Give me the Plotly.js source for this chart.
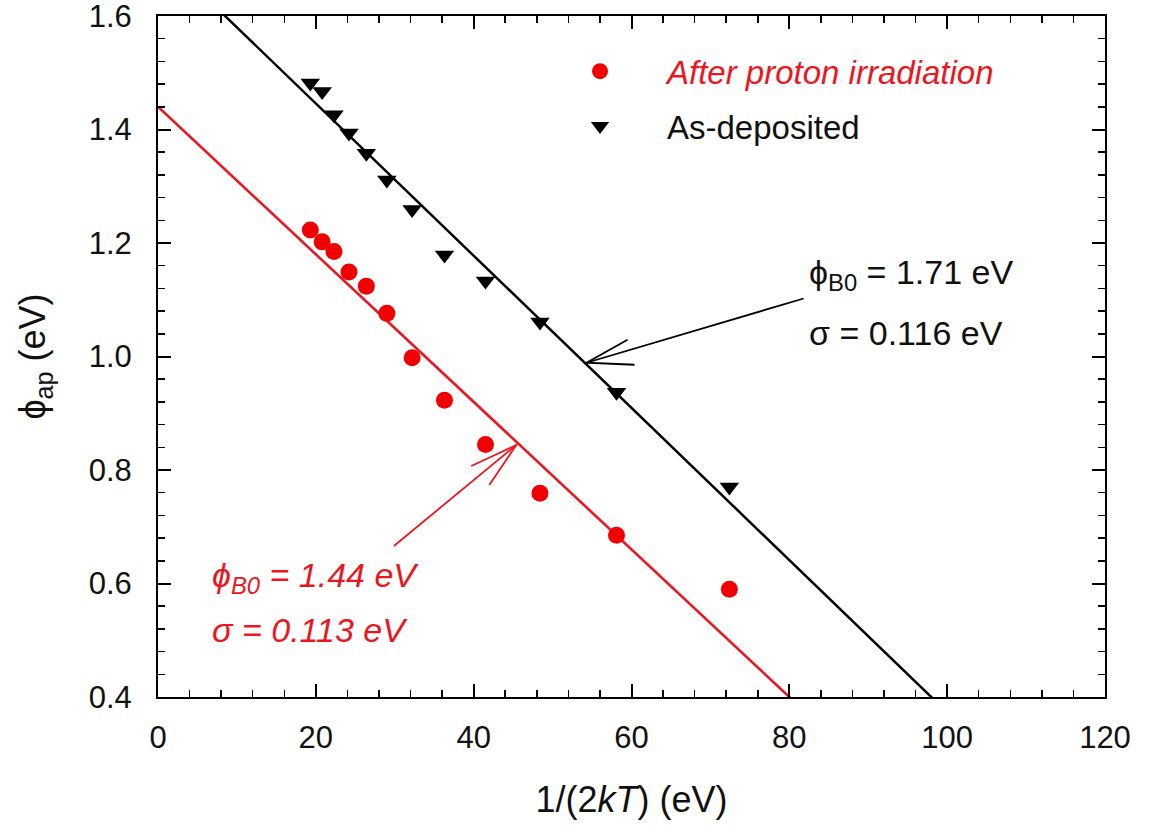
<!DOCTYPE html>
<html>
<head>
<meta charset="utf-8">
<script src="https://cdn.plot.ly/plotly-3.0.1.min.js"></script>
<style>html,body{margin:0;padding:0;background:#fff;}#chart{width:1149px;height:834px;}</style>
</head>
<body>
<div id="chart"></div>
<script>
// 1/(2kT) values (eV^-1)
var invTwoKT = [19.3, 20.8, 22.3, 24.2, 26.4, 29.0, 32.2, 36.3, 41.5, 48.4, 58.1, 72.4];
// apparent barrier heights (eV)
var phiAsDeposited = [1.482, 1.467, 1.426, 1.394, 1.358, 1.311, 1.259, 1.179, 1.133, 1.061, 0.937, 0.770];
var phiIrradiated  = [1.223, 1.202, 1.185, 1.149, 1.124, 1.076, 0.998, 0.923, 0.845, 0.759, 0.685, 0.590];
// linear fits phi_ap = phiB0 - sigma^2/(2kT)
var fitIntercept = [1.714, 1.440];   // as-deposited, irradiated
var fitSlope = [-0.01341, -0.0130];
var fitX = [0, 120];
var seriesNames = ['After proton irradiation', 'As-deposited'];

var RED = 'rgb(236,22,32)';
var BLACK = '#000';
var FONT = 'Liberation Sans, Arial, sans-serif';

function fitLine(i) { return fitX.map(function (x) { return fitIntercept[i] + fitSlope[i] * x; }); }

var traces = [
  {x: fitX, y: fitLine(0), mode: 'lines', line: {color: BLACK, width: 2.5}, showlegend: false, hoverinfo: 'skip'},
  {x: fitX, y: fitLine(1), mode: 'lines', line: {color: RED, width: 2.6}, showlegend: false, hoverinfo: 'skip'},
  {x: invTwoKT, y: phiIrradiated, mode: 'markers', name: '<i><span style="color:' + RED + '">' + seriesNames[0] + '</span></i>',
   legendgroup: 'a', marker: {symbol: 'circle', size: 17, color: 'rgb(240,0,0)'}},
  {x: invTwoKT, y: phiAsDeposited, mode: 'markers', name: seriesNames[1],
   legendgroup: 'b', marker: {symbol: 'triangle-down', size: 17, color: BLACK}}
];

var axisCommon = {
  showline: true, linecolor: BLACK, linewidth: 2, mirror: 'allticks',
  ticks: 'inside', ticklen: 13, tickwidth: 2, tickcolor: BLACK,
  showgrid: false, zeroline: false, ticklabeloverflow: 'allow',
  tickfont: {family: FONT, size: 31, color: '#111'}
};

var layout = {
  width: 1149, height: 834,
  margin: {l: 158, r: 44, t: 16, b: 137},
  paper_bgcolor: '#fff', plot_bgcolor: '#fff',
  font: {family: FONT, color: BLACK},
  xaxis: Object.assign({}, axisCommon, {
    range: [0, 120], tickvals: [0, 20, 40, 60, 80, 100, 120],
    minor: {dtick: 4, ticks: 'inside', ticklen: 7, tickwidth: 1.5, tickcolor: BLACK},
    ticklabelstandoff: 12,
    title: {text: '1/(2<i>kT</i>) (eV)', font: {family: FONT, size: 36, color: '#111'}, standoff: 33}
  }),
  yaxis: Object.assign({}, axisCommon, {
    range: [0.4, 1.6], tickvals: [0.4, 0.6, 0.8, 1.0, 1.2, 1.4, 1.6],
    ticktext: ['0.4', '0.6', '0.8', '1.0', '1.2', '1.4', '1.6'],
    minor: {dtick: 0.04, ticks: 'inside', ticklen: 7, tickwidth: 1.5, tickcolor: BLACK},
    ticklabelstandoff: 18,
    title: {text: 'ϕ<sub>ap</sub> (eV)', font: {family: FONT, size: 36, color: '#111'}, standoff: 32}
  }),
  legend: {
    x: 0.396, y: 0.96, xanchor: 'left', yanchor: 'top',
    bgcolor: 'rgba(0,0,0,0)', borderwidth: 0,
    font: {family: FONT, size: 33, color: '#111'},
    traceorder: 'grouped', tracegroupgap: 9, itemwidth: 124
  },
  annotations: [
    {x: 82.3, y: 1.144, xref: 'x', yref: 'y', xanchor: 'left', yanchor: 'middle', showarrow: false,
     text: 'ϕ<sub>B0</sub> = 1.71 eV', font: {family: FONT, size: 34, color: '#111'}},
    {x: 82.3, y: 1.041, xref: 'x', yref: 'y', xanchor: 'left', yanchor: 'middle', showarrow: false,
     text: 'σ = 0.116 eV', font: {family: FONT, size: 34, color: '#111'}},
    {x: 6.6, y: 0.611, xref: 'x', yref: 'y', xanchor: 'left', yanchor: 'middle', showarrow: false,
     text: '<i>ϕ<sub>B0</sub> = 1.44 eV</i>', font: {family: FONT, size: 34, color: RED}},
    {x: 6.6, y: 0.518, xref: 'x', yref: 'y', xanchor: 'left', yanchor: 'middle', showarrow: false,
     text: '<i>σ = 0.113 eV</i>', font: {family: FONT, size: 34, color: RED}},
    {x: 54.3, y: 0.989, ax: 82.0, ay: 1.103, xref: 'x', yref: 'y', axref: 'x', ayref: 'y',
     text: '', showarrow: true, arrowhead: 0, arrowwidth: 1.8, arrowcolor: BLACK},
    {x: 45.4, y: 0.844, ax: 29.7, ay: 0.664, xref: 'x', yref: 'y', axref: 'x', ayref: 'y',
     text: '', showarrow: true, arrowhead: 0, arrowwidth: 1.8, arrowcolor: RED}
  ],
  shapes: [
    {type: 'path', xref: 'x', yref: 'y', xsizemode: 'pixel', ysizemode: 'pixel',
     xanchor: 54.3, yanchor: 0.989, path: 'M41,23 L0,0 L48,-2', line: {color: BLACK, width: 1.8}},
    {type: 'path', xref: 'x', yref: 'y', xsizemode: 'pixel', ysizemode: 'pixel',
     xanchor: 45.4, yanchor: 0.844, path: 'M-45,-21 L0,0 L-27,-40', line: {color: RED, width: 1.8}}
  ]
};

Plotly.newPlot('chart', traces, layout, {staticPlot: true, displayModeBar: false});
</script>
</body>
</html>
